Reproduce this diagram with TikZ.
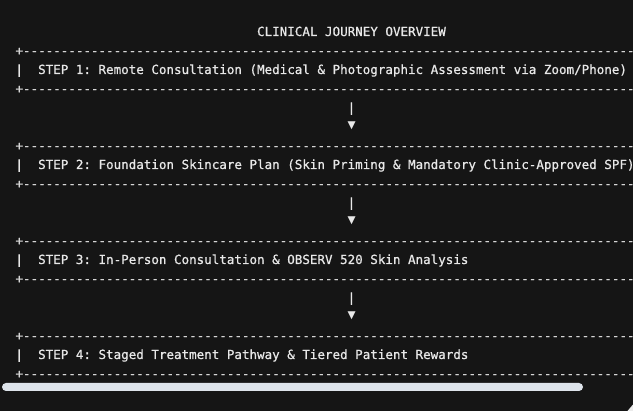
\documentclass[tikz,border=0pt]{standalone}
\usepackage{fontspec}
\setmonofont{DejaVu Sans Mono}[FakeBold=0.7]
\newfontfamily\symfont{DejaVu Sans}
\definecolor{bg}{HTML}{151515}
\definecolor{fg}{HTML}{E8E8E8}
\definecolor{rule}{HTML}{D6D6D6}
\definecolor{scroll}{HTML}{DDE3EA}
\newcommand\borderline{+-------------------------------------------------------------------------------------------}
\tikzset{
  txt/.style={anchor=base west, inner sep=0pt, outer sep=0pt, text=fg,
    font=\ttfamily\fontsize{12.54}{15}\selectfont},
  brd/.style={txt, text=rule},
  tip/.style={anchor=center, inner sep=0pt, outer sep=0pt, text=fg,
    font=\symfont\fontsize{10.5}{11}\selectfont},
}
\begin{document}
\begin{tikzpicture}[x=1pt,y=-1pt]
\useasboundingbox (0,0) rectangle (633,411);
\fill[bg] (0,0) rectangle (633,411);
\begin{scope}
\clip (0,0) rectangle (633,411);
\node[txt] (title) at (257.1,36) {CLINICAL JOURNEY OVERVIEW};
% step 1
\node[brd] (b1t) at (15.5,55) {\borderline};
\node[txt] (s1bar) at (15.5,74) {|};
\node[txt] (s1) at (38.15,74) {STEP 1: Remote Consultation (Medical \& Photographic Assessment via Zoom/Phone)};
\node[brd] (b1b) at (15.5,93) {\borderline};
\node[txt] (a1) at (347.7,112) {|};
\node[tip] (t1) at (351.6,125.5) {▼};
% step 2
\node[brd] (b2t) at (15.5,150) {\borderline};
\node[txt] (s2bar) at (15.5,169) {|};
\node[txt] (s2) at (38.15,169) {STEP 2: Foundation Skincare Plan (Skin Priming \& Mandatory Clinic-Approved SPF)};
\node[brd] (b2b) at (15.5,188) {\borderline};
\node[txt] (a2) at (347.7,207) {|};
\node[tip] (t2) at (351.6,220.5) {▼};
% step 3
\node[brd] (b3t) at (15.5,245) {\borderline};
\node[txt] (s3bar) at (15.5,264) {|};
\node[txt] (s3) at (38.15,264) {STEP 3: In-Person Consultation \& OBSERV 520 Skin Analysis};
\node[brd] (b3b) at (15.5,283) {\borderline};
\node[txt] (a3) at (347.7,302) {|};
\node[tip] (t3) at (351.6,315.5) {▼};
% step 4
\node[brd] (b4t) at (15.5,340) {\borderline};
\node[txt] (s4bar) at (15.5,359) {|};
\node[txt] (s4) at (38.15,359) {STEP 4: Staged Treatment Pathway \& Tiered Patient Rewards};
\node[brd] (b4b) at (15.5,378) {\borderline};
% scrollbar
\fill[scroll, rounded corners=4pt] (2,383) rectangle (583,391);
\fill[white!92!black] (627.5,411) -- (633,411) -- (633,404.5) -- cycle;
\end{scope}
\end{tikzpicture}
\end{document}
